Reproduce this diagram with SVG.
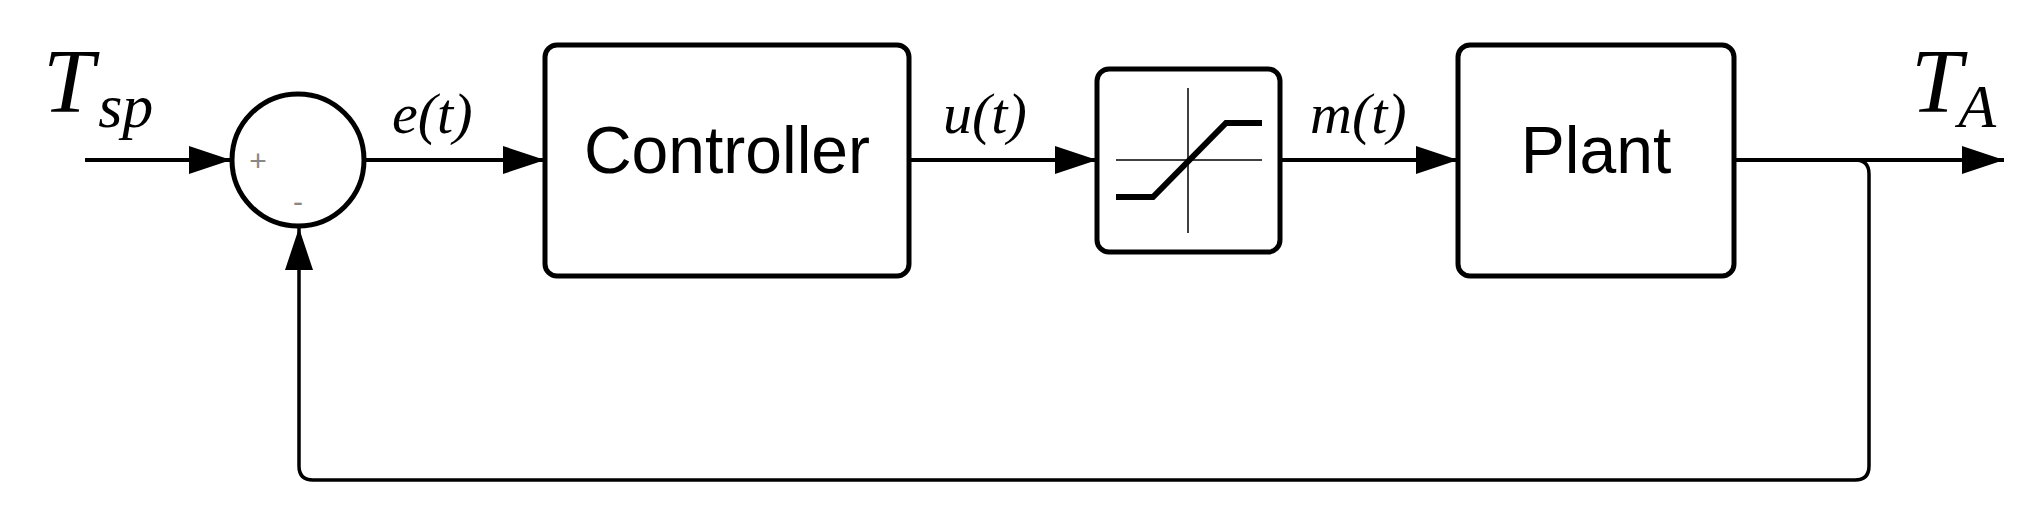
<svg xmlns="http://www.w3.org/2000/svg" width="2041" height="513" viewBox="0 0 2041 513">
<style>
.blk{fill:#fff;stroke:#000;stroke-width:5}
.ln{fill:none;stroke:#000;stroke-width:4}
.fb{fill:none;stroke:#000;stroke-width:3.5}
.math{font-family:"Liberation Serif",serif;font-style:italic;fill:#000}
.lbl{font-family:"Liberation Sans",sans-serif;font-size:66px;fill:#000;text-anchor:middle}
.sign{font-family:"Liberation Sans",sans-serif;font-size:30px;fill:#888;text-anchor:middle}
</style>
<defs>
<marker id="ah" markerWidth="42" markerHeight="28" refX="42" refY="14" markerUnits="userSpaceOnUse" orient="auto">
<path d="M0,0 L42,14 L0,28 Z" fill="#000"/>
</marker>
</defs>
<g id="connectors">
<line class="ln" x1="85" y1="160" x2="231" y2="160" marker-end="url(#ah)"/>
<line class="ln" x1="366" y1="160" x2="545" y2="160" marker-end="url(#ah)"/>
<line class="ln" x1="909" y1="160" x2="1097" y2="160" marker-end="url(#ah)"/>
<line class="ln" x1="1280" y1="160" x2="1458" y2="160" marker-end="url(#ah)"/>
<line class="ln" x1="1734" y1="160" x2="2004" y2="160" marker-end="url(#ah)"/>
<path class="fb" d="M1734,160 H1855 Q1869,160 1869,174 V466 Q1869,480 1855,480 H313 Q299,480 299,466 V228" marker-end="url(#ah)"/>
</g>
<g id="sum">
<circle cx="298" cy="160" r="66" fill="#fff" stroke="#000" stroke-width="5"/>
<text class="sign" x="258" y="171">+</text>
<text class="sign" x="298" y="212">-</text>
</g>
<g id="controller">
<rect class="blk" x="545" y="45" width="364" height="231" rx="12"/>
<text class="lbl" x="727" y="173">Controller</text>
</g>
<g id="saturation">
<rect class="blk" x="1097" y="69" width="183" height="183" rx="12"/>
<line x1="1116" y1="160" x2="1262" y2="160" stroke="#000" stroke-width="1.5"/>
<line x1="1188" y1="88" x2="1188" y2="233" stroke="#000" stroke-width="1.5"/>
<path d="M1116,197 H1153 L1226,123 H1262" fill="none" stroke="#000" stroke-width="6"/>
</g>
<g id="plant">
<rect class="blk" x="1458" y="45" width="276" height="231" rx="12"/>
<text class="lbl" x="1596" y="173">Plant</text>
</g>
<g id="labels">
<text class="math" x="43" y="112" font-size="92">T<tspan font-size="62" dx="4" dy="15">sp</tspan></text>
<text class="math" x="392" y="133" font-size="58">e(t)</text>
<text class="math" x="943" y="133" font-size="58">u(t)</text>
<text class="math" x="1310" y="133" font-size="58">m(t)</text>
<text class="math" x="1911" y="112" font-size="92">T<tspan font-size="62" dx="-4" dy="15">A</tspan></text>
</g>
</svg>
